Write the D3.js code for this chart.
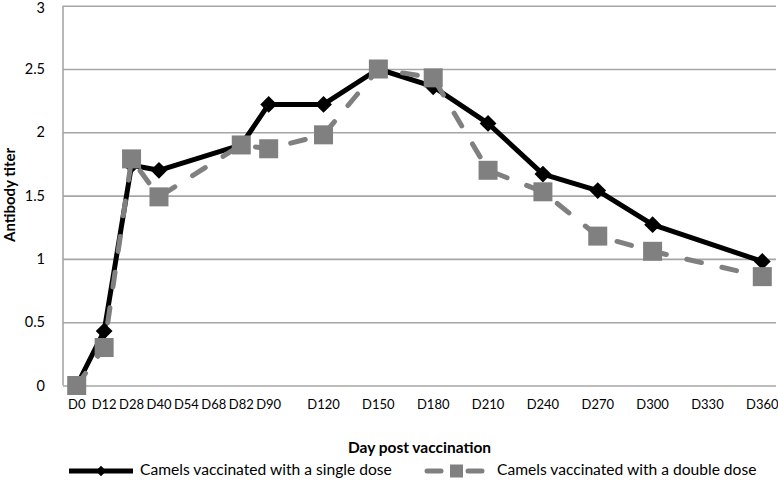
<!DOCTYPE html>
<html>
<head>
<meta charset="utf-8">
<script src="https://cdn.jsdelivr.net/npm/d3@7"></script>
<style>
  html, body { margin: 0; padding: 0; background: #fff; }
  svg { display: block; }
  text { font-family: Lato, "Open Sans", sans-serif; fill: #000; }
</style>
</head>
<body>
<svg id="chart" width="778" height="489"></svg>
<script>
// ---- data ----
const categories = ["D0","D12","D28","D40","D54","D68","D82","D90","","D120","","D150","","D180","","D210","","D240","","D270","","D300","","D330","","D360"];
const singleDose = [0,0.43,1.74,1.70,null,null,1.90,2.22,null,2.22,null,2.50,null,2.36,null,2.07,null,1.67,null,1.54,null,1.27,null,null,null,0.98];
const doubleDose = [0,0.30,1.79,1.49,null,null,1.90,1.87,null,1.98,null,2.50,null,2.43,null,1.70,null,1.53,null,1.18,null,1.06,null,null,null,0.86];
const yTicks = [0,0.5,1,1.5,2,2.5,3];
const seriesNames = ["Camels vaccinated with a single dose","Camels vaccinated with a double dose"];
const xTitle = "Day post vaccination";
const yTitle = "Antibody titer";

// ---- layout ----
const pLeft = 63, pRight = 776, pTop = 5.7, pBottom = 385.5;
const svg = d3.select("#chart");

const x = d3.scaleBand().domain(d3.range(categories.length)).range([pLeft, pRight]);
const y = d3.scaleLinear().domain([0, 3]).range([pBottom, pTop]);
const cx = i => x(i) + x.bandwidth() / 2;

// gridlines
const grid = d3.axisLeft(y).tickValues(yTicks).tickSize(-(pRight - pLeft)).tickFormat("");
svg.append("g").attr("transform", `translate(${pLeft},0)`).call(grid)
  .call(g => g.select(".domain").remove())
  .call(g => g.selectAll("line").attr("stroke", "#a6a6a6").attr("stroke-width", 1.6));

// left axis line
svg.append("line").attr("x1", pLeft).attr("x2", pLeft).attr("y1", pTop).attr("y2", pBottom)
  .attr("stroke", "#a6a6a6").attr("stroke-width", 1.6);

// y tick labels
const yAxis = d3.axisLeft(y).tickValues(yTicks).tickSize(0).tickPadding(18)
  .tickFormat(d => String(d));
svg.append("g").attr("transform", `translate(${pLeft},0)`).call(yAxis)
  .call(g => g.select(".domain").remove())
  .call(g => g.selectAll("text").attr("font-size", 14.5).attr("font-family", "Lato, sans-serif").attr("fill", "#000")
    .attr("dy", d => d === 3 ? "0.5em" : "0.32em"));

// x tick labels
const xAxis = d3.axisBottom(x).tickSize(0).tickPadding(14).tickFormat(i => categories[i]);
svg.append("g").attr("transform", `translate(0,${pBottom})`).call(xAxis)
  .call(g => g.select(".domain").remove())
  .call(g => g.selectAll("text").attr("font-size", 13).attr("font-family", "Lato, sans-serif").attr("fill", "#000"));

// axis titles
svg.append("text").attr("x", (pLeft + pRight) / 2).attr("y", 449).attr("text-anchor", "middle")
  .attr("dominant-baseline", "middle").attr("font-size", 15.5).attr("font-weight", "bold").text(xTitle);
svg.append("text").attr("transform", `translate(11,195) rotate(-90)`).attr("text-anchor", "middle")
  .attr("dominant-baseline", "middle").attr("font-size", 15).attr("font-weight", "bold").text(yTitle);

// ---- series ----
function pts(vals) { return vals.map((v, i) => ({ i, v })).filter(d => d.v !== null); }
const line = d3.line().x(d => cx(d.i)).y(d => y(d.v));

const s1 = pts(singleDose), s2 = pts(doubleDose);
const black = "#000000", gray = "#808080";

svg.append("path").datum(s1).attr("d", line).attr("fill", "none")
  .attr("stroke", black).attr("stroke-width", 5).attr("stroke-linejoin", "round");
svg.append("g").selectAll("path").data(s1).join("path")
  .attr("d", d3.symbol(d3.symbolDiamond2, 180))
  .attr("transform", d => `translate(${cx(d.i)},${y(d.v)})`)
  .attr("fill", black);

svg.append("path").datum(s2).attr("d", line).attr("fill", "none")
  .attr("stroke", gray).attr("stroke-width", 5).attr("stroke-linecap", "round")
  .attr("stroke-dasharray", "15,21");
svg.append("g").selectAll("rect").data(s2).join("rect")
  .attr("x", d => cx(d.i) - 9.5).attr("y", d => y(d.v) - 9.5)
  .attr("width", 19).attr("height", 19).attr("fill", gray);

// ---- legend ----
const ly = 471;
const lg = svg.append("g");
lg.append("line").attr("x1", 69).attr("x2", 133).attr("y1", ly).attr("y2", ly)
  .attr("stroke", black).attr("stroke-width", 5);
lg.append("path").attr("d", d3.symbol(d3.symbolDiamond2, 70)).attr("transform", `translate(101,${ly})`).attr("fill", black);
lg.append("text").attr("x", 140).attr("y", ly).attr("dominant-baseline", "middle").attr("font-size", 15.6).text(seriesNames[0]);

lg.append("line").attr("x1", 427).attr("x2", 441).attr("y1", ly).attr("y2", ly)
  .attr("stroke", gray).attr("stroke-width", 5).attr("stroke-linecap", "round");
lg.append("line").attr("x1", 468).attr("x2", 482).attr("y1", ly).attr("y2", ly)
  .attr("stroke", gray).attr("stroke-width", 5).attr("stroke-linecap", "round");
lg.append("rect").attr("x", 450).attr("y", ly - 6.5).attr("width", 13).attr("height", 13).attr("fill", gray);
lg.append("text").attr("x", 497).attr("y", ly).attr("dominant-baseline", "middle").attr("font-size", 15.6).text(seriesNames[1]);
</script>
</body>
</html>
